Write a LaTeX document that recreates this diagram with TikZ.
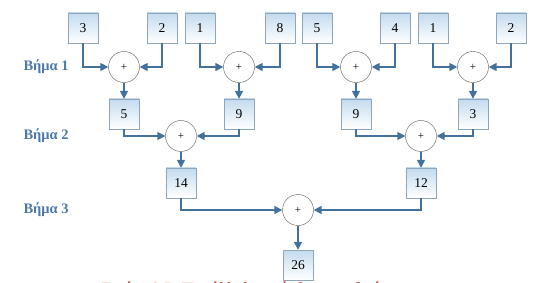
\documentclass[tikz,border=0pt]{standalone}
\usepackage{fontspec}
\setmainfont{Liberation Serif}
\usepackage{xcolor}
\usetikzlibrary{positioning, arrows.meta}
\definecolor{arrowBlue}{HTML}{41719C}
\definecolor{stepBlue}{HTML}{4A78A8}
\definecolor{boxTop}{HTML}{C3DBEF}
\definecolor{boxBorder}{HTML}{8FA6BA}
\definecolor{circleGray}{HTML}{5A5A5A}
\definecolor{captionRed}{HTML}{C0282D}

\begin{document}
\begin{tikzpicture}[x=1pt,y=-1pt]
    \tikzset{num/.style={draw=boxBorder,top color=boxTop,bottom color=white,minimum width=30pt,minimum height=30pt,inner sep=0pt,font=\fontsize{13.5}{15}\selectfont},
      add/.style={circle,draw=circleGray,fill=white,minimum size=31pt,inner sep=0pt,font=\fontsize{11}{13}\selectfont},
      lbl/.style={anchor=west,text=stepBlue,font=\fontsize{14.5}{17}\selectfont\bfseries},
      arr/.style={-{Triangle[length=8pt,width=8pt]},line width=1.6pt,draw=arrowBlue}}
    \useasboundingbox (0,0) rectangle (554,283);
    % step labels
    \node[lbl] (s1) at (20,67) {Βήμα 1};
    \node[lbl] (s2) at (20,136) {Βήμα 2};
    \node[lbl] (s3) at (20,210) {Βήμα 3};
    % step 1
    \node[num] (a1) at (83,28) {3};
    \node[num] (a2) at (162,28) {2};
    \node[num] (a3) at (200,28) {1};
    \node[num] (a4) at (280,28) {8};
    \node[num] (a5) at (317,28) {5};
    \node[num] (a6) at (395,28) {4};
    \node[num] (a7) at (433,28) {1};
    \node[num] (a8) at (511,28) {2};
    \node[add] (p1) at (124,67) {+};
    \node[add] (p2) at (239,67) {+};
    \node[add] (p3) at (356,67) {+};
    \node[add] (p4) at (473,67) {+};
    % step 2
    \node[num] (b1) at (124,114) {5};
    \node[num] (b2) at (239,114) {9};
    \node[num] (b3) at (356,114) {9};
    \node[num] (b4) at (473,114) {3};
    \node[add] (q1) at (181,136) {+};
    \node[add] (q2) at (421,136) {+};
    % step 3
    \node[num] (c1) at (181,183) {14};
    \node[num] (c2) at (421,183) {12};
    \node[add] (r) at (298,210) {+};
    \node[num] (d) at (298,265) {26};
    \draw[arr] (a1) |- (p1);
    \draw[arr] (a2) |- (p1);
    \draw[arr] (a3) |- (p2);
    \draw[arr] (a4) |- (p2);
    \draw[arr] (a5) |- (p3);
    \draw[arr] (a6) |- (p3);
    \draw[arr] (a7) |- (p4);
    \draw[arr] (a8) |- (p4);
    \draw[arr] (p1) -- (b1);
    \draw[arr] (p2) -- (b2);
    \draw[arr] (p3) -- (b3);
    \draw[arr] (p4) -- (b4);
    \draw[arr] (b1) |- (q1);
    \draw[arr] (b2) |- (q1);
    \draw[arr] (b3) |- (q2);
    \draw[arr] (b4) |- (q2);
    \draw[arr] (q1) -- (c1);
    \draw[arr] (q2) -- (c2);
    \draw[arr] (c1) |- (r);
    \draw[arr] (c2) |- (r);
    \draw[arr] (r) -- (d);
    % caption, cut off at the lower edge
    \node[anchor=base west,text=captionRed,font=\fontsize{15.5}{19}\selectfont\bfseries] (cap) at (98,293) {Εικόνα 3.5: Παράλληλη πρόσθεση αριθμών};
  \end{tikzpicture}
\end{document}
